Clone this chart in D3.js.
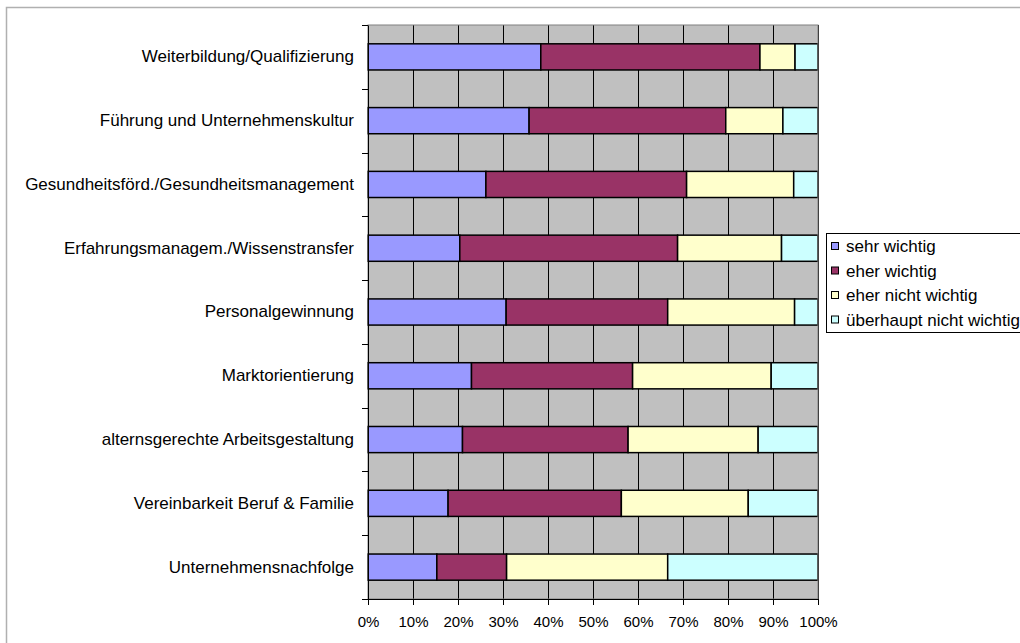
<!DOCTYPE html>
<html>
<head>
<meta charset="utf-8">
<script src="https://cdn.jsdelivr.net/npm/d3@7"></script>
<style>
  body { margin: 0; background: #fff; }
  svg { display: block; font-family: "Liberation Sans", Arial, sans-serif; }
</style>
</head>
<body>
<div id="chart-container"></div>
<script>
// categories, top to bottom
var categories = [
  "Weiterbildung/Qualifizierung",
  "Führung und Unternehmenskultur",
  "Gesundheitsförd./Gesundheitsmanagement",
  "Erfahrungsmanagem./Wissenstransfer",
  "Personalgewinnung",
  "Marktorientierung",
  "alternsgerechte Arbeitsgestaltung",
  "Vereinbarkeit Beruf & Familie",
  "Unternehmensnachfolge"
];
var seriesNames = ["sehr wichtig", "eher wichtig", "eher nicht wichtig", "überhaupt nicht wichtig"];

// shares in percent, one array per series
var sehrWichtig       = [38.4, 35.8, 26.2, 20.4, 30.7, 23.0, 21.0, 17.8, 15.3];
var eherWichtig       = [48.7, 43.7, 44.6, 48.4, 35.9, 35.8, 36.8, 38.5, 15.5];
var eherNichtWichtig  = [ 7.8, 12.7, 23.8, 23.1, 28.2, 30.8, 28.9, 28.2, 35.8];
var ueberhauptNicht   = [ 5.1,  7.8,  5.4,  8.1,  5.2, 10.4, 13.3, 15.5, 33.4];

var xTickValues = [0, 10, 20, 30, 40, 50, 60, 70, 80, 90, 100];

var colors = ["#9999FF", "#993366", "#FFFFCC", "#CCFFFF"];

var W = 1020, H = 643;
var margin = {top: 25, left: 368, right: 202, bottom: 44};
var width = W - margin.left - margin.right,
    height = H - margin.top - margin.bottom;

var rows = categories.map(function(c, i) {
  return {
    cat: c,
    "sehr wichtig": sehrWichtig[i],
    "eher wichtig": eherWichtig[i],
    "eher nicht wichtig": eherNichtWichtig[i],
    "überhaupt nicht wichtig": ueberhauptNicht[i]
  };
});
var stacked = d3.stack().keys(seriesNames)(rows);

var svg = d3.select("#chart-container").append("svg")
    .attr("width", W).attr("height", H);

// outer chart frame
svg.append("rect")
    .attr("x", 6.5).attr("y", 7.5)
    .attr("width", W + 10).attr("height", H + 10)
    .attr("fill", "none").attr("stroke", "#b0b0b0").attr("stroke-width", 1.5);

var g = svg.append("g").attr("transform", "translate(" + margin.left + "," + margin.top + ")");

var x = d3.scaleLinear().domain([0, 100]).range([0, width]);
var y = d3.scaleBand().domain(categories).range([0, height]).paddingInner(0.59).paddingOuter(0.295);

// plot background
g.append("rect").attr("width", width).attr("height", height).attr("fill", "#C0C0C0");

// vertical gridlines
g.append("g").selectAll("line").data(xTickValues.slice(1)).join("line")
    .attr("x1", function(d) { return Math.round(x(d)) + 0.5; })
    .attr("x2", function(d) { return Math.round(x(d)) + 0.5; })
    .attr("y1", 0).attr("y2", height)
    .attr("stroke", "#000").attr("stroke-width", 1);

// bars
g.append("g").selectAll("g").data(stacked).join("g")
    .attr("fill", function(d, i) { return colors[i]; })
  .selectAll("rect").data(function(d) { return d; }).join("rect")
    .attr("x", function(d) { return x(d[0]); })
    .attr("width", function(d) { return x(d[1]) - x(d[0]); })
    .attr("y", function(d) { return y(d.data.cat); })
    .attr("height", y.bandwidth())
    .attr("stroke", "#000").attr("stroke-width", 1.5);

// plot border (right/top in gray)
g.append("rect").attr("width", width).attr("height", height)
    .attr("fill", "none").attr("stroke", "#808080").attr("stroke-width", 1);

// x axis
var xAxis = g.append("g")
    .attr("transform", "translate(0," + height + ")")
    .call(d3.axisBottom(x).tickValues(xTickValues).tickFormat(function(d) { return d + "%"; })
      .tickSizeInner(6).tickSizeOuter(0).tickPadding(11));
xAxis.select(".domain").attr("stroke", "#000");
xAxis.selectAll("text").attr("font-size", 15).attr("fill", "#000")
    .attr("font-family", "Liberation Sans, Arial, sans-serif");

// y axis: category labels and ticks between categories
var yAxis = g.append("g")
    .call(d3.axisLeft(y).tickSize(0).tickPadding(14));
yAxis.select(".domain").attr("stroke", "#000");
yAxis.selectAll("text").attr("font-size", 17).attr("fill", "#000")
    .attr("font-family", "Liberation Sans, Arial, sans-serif");
var step = y.step();
g.append("g").selectAll("line").data(d3.range(categories.length + 1)).join("line")
    .attr("x1", -6).attr("x2", 0)
    .attr("y1", function(i) { return Math.round(i * step) + 0.5; })
    .attr("y2", function(i) { return Math.round(i * step) + 0.5; })
    .attr("stroke", "#000");

// legend
var legend = svg.append("g").attr("transform", "translate(826,233)");
legend.append("rect").attr("x", 0.5).attr("y", 0.5).attr("width", 200).attr("height", 99)
    .attr("fill", "#fff").attr("stroke", "#000");
var li = legend.selectAll("g.item").data(seriesNames).join("g").attr("class", "item")
    .attr("transform", function(d, i) { return "translate(0," + (13.5 + i * 24.5) + ")"; });
li.append("rect").attr("x", 5.5).attr("y", -4).attr("width", 7).attr("height", 7)
    .attr("fill", function(d, i) { return colors[i]; }).attr("stroke", "#000");
li.append("text").attr("x", 20).attr("y", 0).attr("dy", "0.35em")
    .attr("font-size", 17).attr("fill", "#000").text(function(d) { return d; });
</script>
</body>
</html>
